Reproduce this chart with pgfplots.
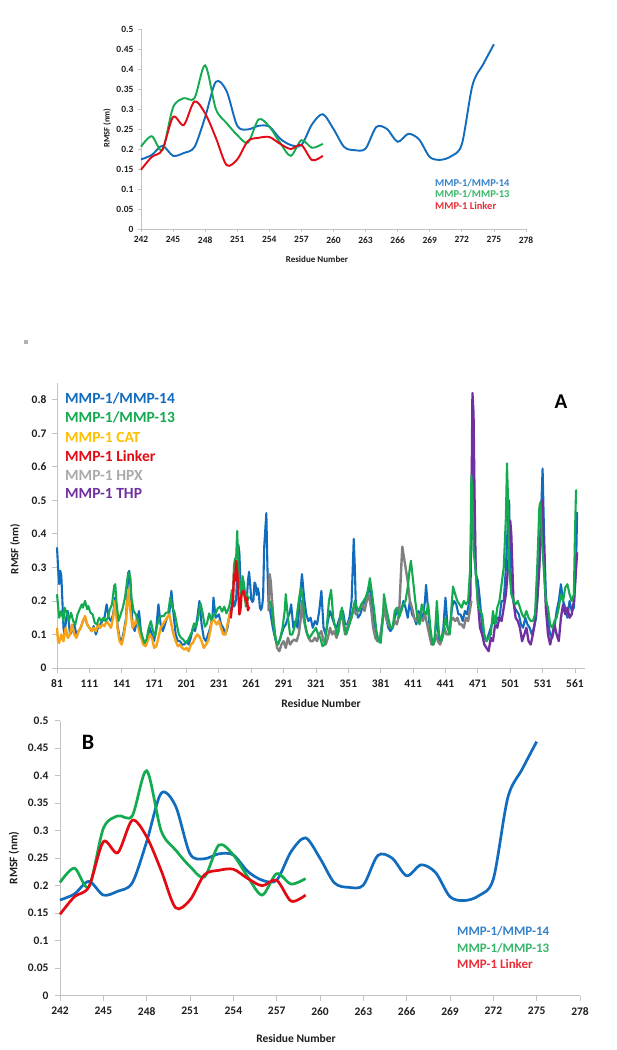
\documentclass[border=0pt]{standalone}
\usepackage{pgfplots}
\pgfplotsset{compat=1.18}
\usepackage{fontspec}
\setmainfont{Carlito}
\definecolor{cblue}{RGB}{18,108,190}
\definecolor{cgreen}{RGB}{20,170,80}
\definecolor{corange}{RGB}{247,162,25}
\definecolor{cgold}{RGB}{255,192,0}
\definecolor{cred}{RGB}{228,10,20}
\definecolor{cgray}{RGB}{128,128,128}
\definecolor{clgray}{RGB}{170,170,170}
\definecolor{cpurple}{RGB}{112,48,160}
\definecolor{axgray}{RGB}{195,195,195}
\definecolor{tk}{RGB}{30,30,30}

% ---------- data ----------
\pgfplotstableread{
x y
242 0.174
243 0.185
244 0.208
245 0.183
246 0.190
247 0.205
248 0.280
249 0.368
250 0.345
251 0.258
252 0.249
253 0.258
254 0.256
255 0.226
256 0.210
257 0.210
258 0.262
259 0.287
260 0.250
261 0.205
262 0.197
263 0.201
264 0.255
265 0.250
266 0.218
267 0.238
268 0.224
269 0.180
270 0.173
271 0.182
272 0.212
273 0.360
274 0.412
275 0.462
}\bBlue
\pgfplotstableread{
x y
242 0.206
243 0.232
244 0.198
245 0.304
246 0.327
247 0.327
248 0.409
249 0.300
250 0.265
251 0.235
252 0.216
253 0.274
254 0.256
255 0.216
256 0.183
257 0.222
258 0.203
259 0.213
}\bGreen
\pgfplotstableread{
x y
242 0.148
243 0.180
244 0.198
245 0.280
246 0.260
247 0.319
248 0.289
249 0.228
250 0.160
251 0.174
252 0.220
253 0.228
254 0.230
255 0.213
256 0.200
257 0.210
258 0.172
259 0.183
}\bRed

\begin{document}
\begin{tikzpicture}[x=1pt,y=1pt]
\path[fill=white] (0,0) rectangle (617,-1050);
\fill[gray!60] (24,-340) rectangle (28,-344);

\pgfplotsset{excel/.style={scale only axis, axis lines=left,
  axis line style={-, draw=axgray, line width=0.9pt},
  tick align=outside, tick style={draw=axgray, line width=0.8pt},
  tick label style={text=tk}, clip=false}}

% ================= TOP PANEL =================
\begin{axis}[excel, at={(141pt,-229pt)}, anchor=south west,
  width=385pt, height=200pt, xmin=242, xmax=278, ymin=0, ymax=0.5,
  xtick={242,245,...,278}, ytick={0,0.05,0.1,0.15,0.2,0.25,0.3,0.35,0.4,0.45,0.5},
  yticklabels={0,0.05,0.1,0.15,0.2,0.25,0.3,0.35,0.4,0.45,0.5},
  xticklabels={242,245,248,251,254,257,260,263,266,269,272,275,278},
  major tick length=3pt,
  tick label style={font=\fontsize{9.5}{10}\selectfont\bfseries},
  yticklabel style={xshift=-1pt}, xticklabel style={yshift=-1pt}]
\addplot[cblue, line width=1.9pt, smooth] table {\bBlue};
\addplot[cgreen, line width=1.9pt, smooth] table {\bGreen};
\addplot[cred, line width=1.9pt, smooth] table {\bRed};
\end{axis}
\node[rotate=90, font=\fontsize{8.5}{10}\selectfont\bfseries, text=tk] at (107,-128) {RMSF (nm)};
\node[font=\fontsize{9}{10}\selectfont\bfseries, text=tk] at (317,-259) {Residue Number};
\begin{scope}[every node/.style={anchor=west, font=\fontsize{10.5}{12}\selectfont\bfseries, inner sep=0pt}]
\node[text=cblue!85] at (435,-183) {MMP-1/MMP-14};
\node[text=cgreen!85] at (435,-194.5) {MMP-1/MMP-13};
\node[text=cred!85] at (435,-206) {MMP-1 Linker};
\end{scope}

% ================= PANEL A =================
\begin{axis}[excel, at={(57pt,-668pt)}, anchor=south west,
  width=528pt, height=285pt, xmin=81, xmax=570.3, ymin=0, ymax=0.85,
  xtick={81,111,...,561}, ytick={0,0.1,...,0.8},
  xticklabels={81,111,141,171,201,231,261,291,321,351,381,411,441,471,501,531,561},
  yticklabels={0,0.1,0.2,0.3,0.4,0.5,0.6,0.7,0.8},
  major tick length=5pt,
  tick label style={font=\fontsize{11.5}{12}\selectfont\bfseries},
  yticklabel style={xshift=-2pt}, xticklabel style={yshift=-3pt}]
% MMP-1/MMP-14
\addplot[cblue, line width=2.1pt, line join=round] coordinates {
(81,0.36)(82,0.30)(83,0.25)(84,0.29)(85,0.275)(86,0.20)(87,0.12)(88,0.10)(90,0.16)(91,0.17)(93,0.10)(95,0.11)(97,0.13)(99,0.10)(101,0.11)(103,0.12)(105,0.14)(107,0.15)(109,0.13)(111,0.12)(113,0.11)(115,0.125)(117,0.10)(119,0.12)(121,0.13)(123,0.14)(125,0.15)(127,0.19)(129,0.15)(131,0.14)(133,0.16)(135,0.21)(137,0.13)(139,0.09)(141,0.08)(143,0.11)(145,0.15)(147,0.28)(148,0.29)(149,0.25)(151,0.13)(153,0.11)(155,0.14)(157,0.17)(159,0.10)(161,0.08)(163,0.07)(165,0.09)(167,0.12)(169,0.10)(171,0.08)(173,0.12)(175,0.19)(177,0.13)(179,0.11)(181,0.13)(183,0.15)(185,0.16)(187,0.23)(189,0.16)(191,0.10)(193,0.08)(195,0.08)(197,0.07)(199,0.07)(201,0.08)(203,0.07)(205,0.09)(207,0.12)(209,0.11)(211,0.15)(213,0.20)(215,0.13)(217,0.09)(219,0.08)(221,0.10)(223,0.12)(225,0.15)(226,0.21)(228,0.15)(231,0.16)(233,0.13)(235,0.12)(237,0.10)(239,0.12)(241,0.16)
(242,0.174)(243,0.185)(244,0.208)(245,0.183)(246,0.19)(247,0.205)(248,0.28)(249,0.368)(250,0.345)(251,0.258)(252,0.249)(253,0.258)(254,0.256)(255,0.226)(256,0.21)(257,0.21)(258,0.262)(259,0.287)(260,0.25)(261,0.205)(262,0.197)(263,0.201)(264,0.255)(265,0.25)(266,0.218)(267,0.238)(268,0.224)(269,0.18)(270,0.173)(271,0.182)(272,0.212)(273,0.36)(274,0.412)(275,0.462)
(276,0.30)(277,0.20)(279,0.16)(281,0.12)(283,0.09)(285,0.07)(287,0.08)(289,0.10)(291,0.12)(293,0.13)(295,0.15)(297,0.17)(298,0.19)(300,0.12)(302,0.14)(304,0.12)(306,0.20)(308,0.28)(310,0.21)(312,0.16)(314,0.14)(316,0.15)(318,0.12)(320,0.14)(322,0.13)(324,0.17)(326,0.23)(328,0.12)(330,0.10)(332,0.14)(334,0.17)(336,0.15)(338,0.13)(340,0.12)(342,0.14)(344,0.16)(346,0.17)(348,0.13)(350,0.13)(352,0.15)(354,0.20)(356,0.385)(357,0.30)(358,0.18)(360,0.15)(362,0.16)(364,0.18)(366,0.20)(368,0.21)(370,0.24)(372,0.22)(374,0.15)(376,0.12)(378,0.09)(380,0.08)(382,0.13)(384,0.18)(386,0.15)(388,0.12)(390,0.11)(392,0.12)(394,0.15)(396,0.17)(398,0.18)(400,0.17)(402,0.20)(404,0.18)(406,0.15)(408,0.20)(410,0.16)(412,0.15)(414,0.13)(416,0.17)(418,0.16)(420,0.15)(422,0.20)(423,0.248)(425,0.17)(427,0.10)(429,0.07)(431,0.09)(433,0.16)(435,0.08)(437,0.08)(439,0.12)(441,0.21)(443,0.12)(445,0.11)(447,0.18)(449,0.20)(451,0.19)(453,0.16)(455,0.16)(457,0.14)(459,0.17)(461,0.16)(463,0.20)(465,0.40)(466,0.70)(467,0.62)(468,0.40)(469,0.28)(471,0.26)(473,0.20)(475,0.12)(477,0.09)(479,0.08)(481,0.10)(483,0.12)(485,0.14)(487,0.13)(489,0.15)(491,0.15)(493,0.20)(495,0.20)(497,0.30)(499,0.45)(500,0.50)(501,0.30)(503,0.22)(505,0.18)(507,0.17)(509,0.16)(511,0.13)(513,0.12)(515,0.15)(517,0.13)(519,0.12)(521,0.10)(523,0.12)(525,0.15)(527,0.25)(529,0.40)(530,0.50)(531,0.595)(532,0.45)(534,0.22)(536,0.14)(538,0.10)(540,0.09)(542,0.12)(544,0.17)(546,0.20)(548,0.25)(550,0.20)(552,0.18)(554,0.15)(556,0.20)(558,0.17)(560,0.18)(562,0.30)(563,0.465)};
% MMP-1 CAT
\addplot[corange, line width=2.4pt, line join=round] coordinates {
(81,0.12)(82,0.08)(83,0.075)(85,0.10)(87,0.08)(89,0.12)(91,0.09)(93,0.10)(95,0.13)(97,0.10)(99,0.09)(101,0.11)(103,0.12)(105,0.14)(107,0.155)(109,0.13)(111,0.12)(113,0.11)(115,0.12)(117,0.11)(119,0.13)(121,0.12)(123,0.13)(125,0.125)(127,0.14)(129,0.13)(131,0.12)(133,0.15)(135,0.20)(137,0.12)(139,0.08)(141,0.07)(143,0.10)(145,0.14)(147,0.235)(149,0.17)(151,0.12)(153,0.13)(155,0.15)(157,0.11)(159,0.09)(161,0.07)(163,0.065)(165,0.08)(167,0.10)(169,0.09)(171,0.06)(173,0.065)(175,0.09)(177,0.12)(179,0.13)(181,0.14)(183,0.15)(185,0.16)(187,0.13)(189,0.10)(191,0.08)(193,0.065)(195,0.07)(197,0.06)(199,0.055)(201,0.06)(203,0.05)(205,0.07)(207,0.075)(209,0.09)(211,0.10)(213,0.094)(215,0.08)(217,0.06)(219,0.07)(221,0.08)(223,0.11)(225,0.15)(227,0.14)(229,0.13)(231,0.14)(233,0.12)(235,0.10)(237,0.10)(239,0.13)(241,0.16)(242,0.17)};
% MMP-1 HPX
\addplot[cgray, line width=2.4pt, line join=round] coordinates {
(277,0.17)(278,0.28)(279,0.26)(281,0.17)(283,0.10)(285,0.06)(287,0.05)(289,0.07)(291,0.08)(293,0.06)(295,0.09)(297,0.07)(299,0.08)(301,0.085)(303,0.08)(305,0.10)(307,0.15)(308,0.20)(310,0.14)(312,0.11)(314,0.09)(316,0.08)(318,0.08)(320,0.09)(322,0.08)(324,0.10)(326,0.11)(328,0.08)(330,0.07)(332,0.09)(334,0.12)(336,0.10)(338,0.11)(340,0.09)(342,0.11)(344,0.17)(346,0.14)(348,0.10)(350,0.12)(352,0.14)(354,0.15)(356,0.18)(358,0.16)(360,0.17)(362,0.18)(364,0.19)(366,0.17)(368,0.20)(370,0.22)(372,0.18)(374,0.12)(376,0.09)(378,0.08)(380,0.08)(382,0.12)(384,0.18)(386,0.15)(388,0.13)(390,0.12)(392,0.12)(394,0.14)(396,0.13)(398,0.16)(400,0.30)(401,0.362)(402,0.34)(404,0.30)(406,0.26)(408,0.20)(410,0.18)(412,0.15)(414,0.14)(416,0.16)(418,0.15)(420,0.14)(422,0.16)(424,0.13)(426,0.10)(428,0.07)(430,0.07)(432,0.10)(434,0.08)(436,0.07)(438,0.09)(440,0.12)(442,0.10)(444,0.10)(446,0.14)(448,0.15)(450,0.14)(452,0.15)(454,0.13)(456,0.13)(458,0.12)(460,0.15)(462,0.14)(464,0.18)(465,0.20)};
% MMP-1 THP
\addplot[cpurple, line width=2.3pt, line join=round] coordinates {
(464,0.20)(465,0.45)(466,0.82)(467,0.76)(468,0.50)(469,0.30)(471,0.20)(473,0.12)(475,0.10)(477,0.07)(479,0.06)(481,0.05)(483,0.09)(485,0.08)(487,0.13)(489,0.12)(491,0.15)(493,0.14)(495,0.18)(497,0.22)(499,0.30)(501,0.44)(502,0.40)(504,0.20)(506,0.15)(508,0.14)(510,0.12)(512,0.08)(514,0.10)(516,0.12)(518,0.08)(520,0.07)(522,0.10)(524,0.14)(526,0.20)(528,0.30)(530,0.48)(531,0.50)(532,0.35)(534,0.18)(536,0.10)(538,0.07)(540,0.10)(542,0.13)(544,0.10)(546,0.08)(548,0.15)(550,0.19)(552,0.16)(554,0.18)(556,0.15)(558,0.16)(560,0.20)(563,0.345)};
% MMP-1/MMP-13
\addplot[cgreen, line width=2.1pt, line join=round] coordinates {
(81,0.22)(83,0.15)(85,0.17)(87,0.14)(88,0.18)(90,0.165)(92,0.14)(94,0.165)(96,0.14)(98,0.13)(100,0.16)(102,0.175)(104,0.19)(105,0.18)(107,0.20)(109,0.175)(110,0.185)(112,0.165)(114,0.16)(116,0.135)(118,0.13)(120,0.15)(122,0.14)(124,0.15)(126,0.14)(128,0.15)(130,0.175)(132,0.19)(134,0.245)(135,0.25)(136,0.20)(138,0.14)(140,0.16)(142,0.18)(144,0.21)(146,0.26)(147,0.285)(149,0.27)(150,0.21)(152,0.17)(154,0.16)(156,0.14)(158,0.12)(160,0.095)(162,0.075)(164,0.085)(166,0.12)(168,0.14)(170,0.11)(172,0.095)(174,0.13)(176,0.15)(178,0.155)(180,0.155)(182,0.165)(184,0.165)(186,0.21)(188,0.18)(190,0.165)(192,0.13)(194,0.10)(196,0.09)(198,0.085)(200,0.075)(202,0.08)(204,0.094)(206,0.108)(208,0.133)(210,0.123)(212,0.153)(214,0.193)(216,0.163)(218,0.123)(220,0.133)(222,0.163)(224,0.143)(226,0.158)(228,0.163)(230,0.178)(232,0.183)(234,0.168)(236,0.183)(238,0.163)(240,0.178)(241,0.19)
(242,0.206)(243,0.232)(244,0.198)(245,0.304)(246,0.327)(247,0.327)(248,0.409)(249,0.30)(250,0.265)(251,0.235)(252,0.216)(253,0.274)(254,0.256)(255,0.216)(256,0.183)(257,0.222)(258,0.203)(259,0.213)};
\addplot[cgreen, line width=2.1pt, line join=round] coordinates {
(278,0.20)(280,0.18)(282,0.12)(284,0.08)(286,0.07)(288,0.09)(290,0.12)(292,0.17)(293,0.22)(295,0.15)(297,0.10)(299,0.10)(301,0.12)(303,0.15)(305,0.20)(307,0.24)(309,0.20)(311,0.13)(313,0.10)(315,0.09)(317,0.10)(319,0.11)(321,0.12)(323,0.10)(325,0.09)(327,0.065)(329,0.07)(331,0.12)(333,0.20)(335,0.233)(337,0.15)(339,0.12)(341,0.10)(343,0.14)(345,0.18)(347,0.13)(349,0.10)(351,0.12)(353,0.14)(355,0.17)(357,0.20)(359,0.18)(361,0.17)(363,0.19)(365,0.20)(367,0.21)(369,0.23)(371,0.268)(373,0.22)(375,0.17)(377,0.11)(379,0.08)(381,0.075)(383,0.15)(384,0.22)(386,0.18)(388,0.15)(390,0.12)(392,0.12)(394,0.17)(396,0.18)(398,0.15)(400,0.17)(402,0.19)(404,0.20)(406,0.24)(408,0.30)(409,0.32)(411,0.26)(413,0.20)(415,0.15)(417,0.13)(419,0.19)(421,0.17)(423,0.16)(425,0.19)(427,0.12)(429,0.07)(431,0.08)(433,0.20)(435,0.10)(437,0.08)(439,0.10)(441,0.15)(443,0.12)(445,0.10)(447,0.20)(448,0.243)(450,0.22)(452,0.20)(454,0.19)(456,0.18)(458,0.20)(460,0.19)(462,0.20)(464,0.30)(465,0.575)(466,0.50)(467,0.35)(469,0.29)(471,0.19)(473,0.17)(475,0.16)(477,0.10)(479,0.08)(481,0.09)(483,0.10)(485,0.17)(487,0.13)(489,0.18)(491,0.20)(493,0.25)(495,0.30)(497,0.45)(498,0.61)(499,0.50)(500,0.30)(502,0.22)(504,0.20)(506,0.19)(508,0.20)(510,0.18)(512,0.16)(514,0.15)(516,0.17)(518,0.15)(520,0.14)(522,0.14)(524,0.16)(526,0.30)(528,0.48)(529,0.495)(530,0.40)(532,0.30)(534,0.20)(536,0.18)(538,0.13)(540,0.12)(542,0.14)(544,0.15)(546,0.18)(548,0.22)(550,0.20)(552,0.24)(554,0.25)(556,0.22)(558,0.20)(560,0.22)(561,0.40)(562,0.53)(563,0.53)};
% MMP-1 Linker
\addplot[cred, line width=2.4pt, line join=round] table {\bRed};
\end{axis}
\node[rotate=90, font=\fontsize{11}{12}\selectfont\bfseries, text=tk] at (15,-549) {RMSF (nm)};
\node[font=\fontsize{11.5}{13}\selectfont\bfseries, text=tk] at (321,-703) {Residue Number};
\node[font=\fontsize{21}{24}\selectfont\bfseries, text=black] at (561,-402) {A};
\begin{scope}[every node/.style={anchor=west, font=\fontsize{15.5}{17}\selectfont\bfseries, inner sep=0pt}]
\node[text=cblue] at (65,-398) {MMP-1/MMP-14};
\node[text=cgreen] at (65,-417.5) {MMP-1/MMP-13};
\node[text=cgold] at (65,-437) {MMP-1 CAT};
\node[text=cred] at (65,-456) {MMP-1 Linker};
\node[text=clgray] at (65,-475) {MMP-1 HPX};
\node[text=cpurple] at (65,-493.5) {MMP-1 THP};
\end{scope}

% ================= PANEL B =================
\begin{axis}[excel, at={(60pt,-995.7pt)}, anchor=south west,
  width=520pt, height=275pt, xmin=242, xmax=278, ymin=0, ymax=0.5,
  xtick={242,245,...,278}, ytick={0,0.05,0.1,0.15,0.2,0.25,0.3,0.35,0.4,0.45,0.5},
  yticklabels={0,0.05,0.1,0.15,0.2,0.25,0.3,0.35,0.4,0.45,0.5},
  xticklabels={242,245,248,251,254,257,260,263,266,269,272,275,278},
  major tick length=5pt,
  tick label style={font=\fontsize{11.5}{12}\selectfont\bfseries},
  yticklabel style={xshift=-3pt}, xticklabel style={yshift=-3pt}]
\addplot[cblue, line width=2.7pt, smooth] table {\bBlue};
\addplot[cgreen, line width=2.7pt, smooth] table {\bGreen};
\addplot[cred, line width=2.7pt, smooth] table {\bRed};
\end{axis}
\node[rotate=90, font=\fontsize{11.5}{13}\selectfont\bfseries, text=tk] at (14,-858) {RMSF (nm)};
\node[font=\fontsize{11.5}{13}\selectfont\bfseries, text=tk] at (296,-1038) {Residue Number};
\node[font=\fontsize{22}{25}\selectfont\bfseries, text=black] at (88,-742) {B};
\begin{scope}[every node/.style={anchor=west, font=\fontsize{13}{15}\selectfont\bfseries, inner sep=0pt}]
\node[text=cblue!85] at (457,-931) {MMP-1/MMP-14};
\node[text=cgreen!85] at (457,-948) {MMP-1/MMP-13};
\node[text=cred!85] at (457,-964) {MMP-1 Linker};
\end{scope}
\end{tikzpicture}
\end{document}
